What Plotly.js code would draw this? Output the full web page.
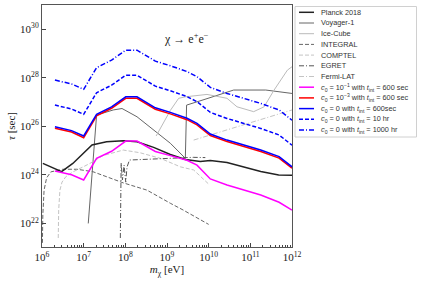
<!DOCTYPE html>
<html><head><meta charset="utf-8">
<script src="https://cdn.plot.ly/plotly-3.0.1.min.js"></script>
<style>html,body{margin:0;padding:0;background:#fff;} #chart{width:421px;height:282px;}</style>
</head><body><div id="chart"></div>
<script>
// All values are log10: mass in eV, lifetime in seconds
const mMain     = [6.31, 6.71, 7.00, 7.31, 7.67, 8.01, 8.28, 8.72, 9.08, 9.48, 9.72, 10.04, 10.44, 11.25, 11.69, 12.00];
const tauC1     = [24.16, 24.00, 23.79, 24.68, 24.97, 25.39, 25.39, 24.96, 24.79, 24.60, 24.40, 23.83, 23.58, 23.17, 22.87, 22.55];
const tauC3     = [25.92, 25.76, 25.53, 26.43, 26.74, 27.15, 27.15, 26.70, 26.51, 26.27, 26.06, 25.62, 25.37, 24.96, 24.69, 24.27];
const tau600    = [25.98, 25.82, 25.60, 26.49, 26.80, 27.21, 27.21, 26.76, 26.57, 26.33, 26.12, 25.68, 25.43, 25.02, 24.75, 24.33];
const tau10hr   = [26.87, 26.71, 26.49, 27.38, 27.69, 28.10, 28.10, 27.65, 27.46, 27.22, 27.01, 26.57, 26.32, 25.91, 25.64, 25.22];
const tau1000hr = [27.90, 27.74, 27.52, 28.41, 28.72, 29.13, 29.13, 28.68, 28.49, 28.25, 28.04, 27.60, 27.35, 26.94, 26.67, 26.25];

const mPlanck   = [6.02, 6.47, 6.74, 6.99, 7.20, 7.55, 7.95, 8.28, 8.68, 9.08, 9.44, 9.80, 10.04, 10.44, 11.25, 11.68, 12.00];
const tauPlanck = [24.47, 24.13, 24.47, 24.90, 25.23, 25.36, 25.40, 25.36, 25.13, 24.84, 24.63, 24.55, 24.59, 24.51, 24.14, 23.99, 23.98];

const mVoy   = [7.11, 7.31, 7.71, 7.92, 8.28, 8.64, 9.08, 9.44, 9.47, 9.84, 10.16, 10.60, 11.37, 12.00];
const tauVoy = [22.00, 26.46, 26.67, 26.73, 26.39, 25.89, 25.30, 24.68, 26.87, 27.07, 27.25, 27.49, 27.49, 27.35];

const mIce   = [8.74, 9.08, 9.28, 9.44, 9.96, 10.44, 10.68, 11.08, 11.33, 11.57, 11.89, 12.00];
const tauIce = [25.60, 26.65, 27.15, 27.21, 27.31, 27.15, 26.80, 26.60, 26.80, 27.49, 28.31, 28.45];

const mInt   = [6.01, 6.02, 6.05, 6.11, 6.21, 6.50, 6.84, 7.22, 7.95, 8.52, 9.08, 9.39, 10.00];
const tauInt = [21.20, 22.35, 23.37, 23.87, 24.12, 24.23, 24.23, 24.13, 23.67, 23.37, 22.83, 22.55, 21.96];

const mCom   = [6.39, 6.40, 6.43, 6.48, 6.57, 6.75, 6.99, 7.15, 7.46, 7.95, 8.35, 8.84, 9.32, 9.64, 10.00];
const tauCom = [21.40, 22.55, 23.37, 23.70, 23.92, 24.13, 24.33, 24.47, 24.79, 25.02, 24.91, 24.68, 24.33, 24.20, 23.62];

const mEg   = [7.88, 7.90, 7.93, 7.97, 8.01, 8.04, 8.10, 8.35, 9.08, 9.63, 9.92];
const tauEg = [21.40, 24.49, 23.79, 24.40, 23.70, 24.32, 24.61, 24.63, 24.68, 24.72, 24.71];

const mFer   = [9.64, 10.68, 12.00];
const tauFer = [25.43, 25.97, 26.67];

const xTickExp = [6, 7, 8, 9, 10, 11, 12];
const yTickExp = [22, 24, 26, 28, 30];

const legendNames = [
  'Planck 2018', 'Voyager-1', 'Ice-Cube', 'INTEGRAL', 'COMPTEL', 'EGRET', 'Fermi-LAT',
  '<i>c</i><sub>0</sub> = 10<sup>−1</sup> with <i>t</i><sub>int</sub> = 600 sec',
  '<i>c</i><sub>0</sub> = 10<sup>−3</sup> with <i>t</i><sub>int</sub> = 600 sec',
  '<i>c</i><sub>0</sub> = 0 with <i>t</i><sub>int</sub> = 600sec',
  '<i>c</i><sub>0</sub> = 0 with <i>t</i><sub>int</sub> = 10 hr',
  '<i>c</i><sub>0</sub> = 0 with <i>t</i><sub>int</sub> = 1000 hr'
];

const DASH = '4px,2px', DASHDOT = '5px,2px,1px,2px';
const styles = [
  {color:'#222222', width:1.5, dash:'solid'},
  {color:'#666666', width:1,   dash:'solid'},
  {color:'#bbbbbb', width:1,   dash:'solid'},
  {color:'#666666', width:1,   dash:DASH},
  {color:'#c4c4c4', width:1,   dash:DASH},
  {color:'#555555', width:1,   dash:DASHDOT},
  {color:'#c4c4c4', width:1,   dash:DASHDOT},
  {color:'#ff00ff', width:1.5, dash:'solid'},
  {color:'#ff0000', width:1.5, dash:'solid'},
  {color:'#0000ff', width:1.5, dash:'solid'},
  {color:'#0000ff', width:1.5, dash:DASH},
  {color:'#0000ff', width:1.5, dash:DASHDOT}
];
const seriesX = [mPlanck, mVoy, mIce, mInt, mCom, mEg, mFer, mMain, mMain, mMain, mMain, mMain];
const seriesY = [tauPlanck, tauVoy, tauIce, tauInt, tauCom, tauEg, tauFer, tauC1, tauC3, tau600, tau10hr, tau1000hr];

const P = v => Math.pow(10, v);
const drawOrder = [1, 2, 3, 4, 5, 6, 0, 7, 8, 9, 10, 11];
const traces = drawOrder.map(i => ({
  x: seriesX[i].map(P), y: seriesY[i].map(P), type:'scatter', mode:'lines',
  name: legendNames[i], line: styles[i], hoverinfo:'skip', showlegend:false
}));

const W = 421, H = 282, mL = 42, mR = 129, mT = 5, mB = 35;
const pw = W - mL - mR, ph = H - mT - mB;
const px = x => (x - mL) / pw;
const py = y => (H - mB - y) / ph;

const serif = 'Liberation Serif, DejaVu Serif, serif';
const sans = 'Liberation Sans, Arial, sans-serif';

const shapes = [{type:'rect', xref:'paper', yref:'paper', x0:px(295), x1:px(416.5), y0:py(137), y1:py(6.5),
  line:{color:'#d0d0d0', width:1}, fillcolor:'rgba(255,255,255,0.9)', layer:'above'}];
const annotations = [{xref:'paper', yref:'paper', x:px(186), y:py(39), text:'χ → e<sup>+</sup>e<sup>−</sup>',
  showarrow:false, font:{family:serif, size:12, color:'#222'}, xanchor:'center', yanchor:'middle'}];
legendNames.forEach((name, i) => {
  const cy = 12.3 + i * 10.7;
  shapes.push({type:'line', xref:'paper', yref:'paper', x0:px(299), x1:px(314), y0:py(cy), y1:py(cy),
    line:{color:styles[i].color, width:styles[i].width, dash:styles[i].dash}, layer:'above'});
  annotations.push({xref:'paper', yref:'paper', x:px(318.5), y:py(cy), text:name, showarrow:false,
    xanchor:'left', yanchor:'middle', font:{family:sans, size:7.3, color:'#333'}});
});

const layout = {
  width:W, height:H, margin:{l:mL, r:mR, t:mT, b:mB}, paper_bgcolor:'#fff', plot_bgcolor:'#fff',
  showlegend:false,
  xaxis:{type:'log', range:[6, 12], tickvals:xTickExp.map(P), ticktext:xTickExp.map(e => '10<sup>' + e + '</sup>'),
    ticks:'inside', ticklen:4, tickcolor:'#444', showline:true, mirror:true, linecolor:'#555', linewidth:1,
    minor:{ticks:'inside', ticklen:2, tickcolor:'#444', dtick:'D1', showgrid:false},
    showgrid:false, zeroline:false, automargin:false, tickfont:{family:serif, size:11, color:'#222'},
    title:{text:'<i>m</i><sub>χ</sub> [eV]', font:{family:serif, size:11, color:'#222'}, standoff:2}},
  yaxis:{type:'log', range:[21.03, 30.99], tickvals:yTickExp.map(P), ticktext:yTickExp.map(e => '10<sup>' + e + '</sup>'),
    ticks:'inside', ticklen:4, tickcolor:'#444', showline:true, mirror:true, linecolor:'#555', linewidth:1,
    showgrid:false, zeroline:false, automargin:false, tickfont:{family:serif, size:11, color:'#222'},
    title:{text:'<i>τ</i> [sec]', font:{family:serif, size:11, color:'#222'}, standoff:2}},
  shapes, annotations
};
Plotly.newPlot('chart', traces, layout, {staticPlot:true, displayModeBar:false});
</script></body></html>
